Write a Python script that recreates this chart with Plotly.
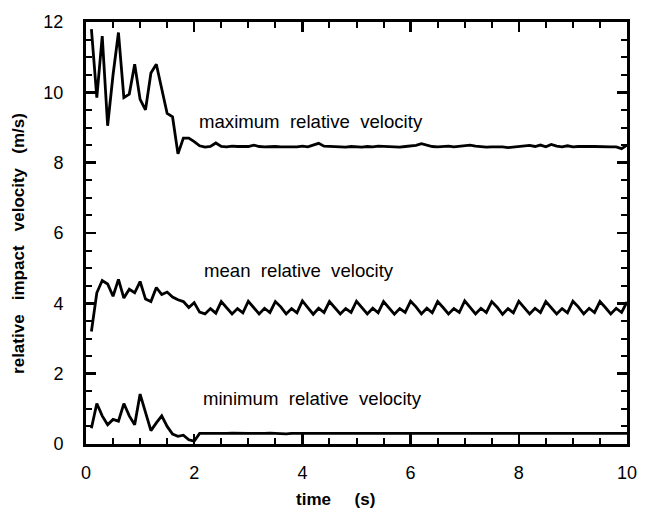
import plotly.graph_objects as go

time_s = [0.1, 0.2, 0.3, 0.4, 0.5, 0.6, 0.7, 0.8, 0.9, 1.0,
          1.1, 1.2, 1.3, 1.4, 1.5, 1.6, 1.7, 1.8, 1.9, 2.0,
          2.1, 2.2, 2.3, 2.4, 2.5, 2.6, 2.7, 2.8, 2.9, 3.0,
          3.1, 3.2, 3.3, 3.4, 3.5, 3.6, 3.7, 3.8, 3.9, 4.0,
          4.1, 4.2, 4.3, 4.4, 4.5, 4.6, 4.7, 4.8, 4.9, 5.0,
          5.1, 5.2, 5.3, 5.4, 5.5, 5.6, 5.7, 5.8, 5.9, 6.0,
          6.1, 6.2, 6.3, 6.4, 6.5, 6.6, 6.7, 6.8, 6.9, 7.0,
          7.1, 7.2, 7.3, 7.4, 7.5, 7.6, 7.7, 7.8, 7.9, 8.0,
          8.1, 8.2, 8.3, 8.4, 8.5, 8.6, 8.7, 8.8, 8.9, 9.0,
          9.1, 9.2, 9.3, 9.4, 9.5, 9.6, 9.7, 9.8, 9.9, 10.0]

max_vel = [11.8, 9.85, 11.6, 9.05, 10.5, 11.7, 9.85, 9.95, 10.8, 9.8,
           9.5, 10.55, 10.8, 10.1, 9.4, 9.3, 8.25, 8.7, 8.7, 8.6,
           8.48, 8.44, 8.46, 8.56, 8.46, 8.45, 8.47, 8.46, 8.47, 8.46,
           8.5, 8.46, 8.45, 8.46, 8.46, 8.45, 8.44, 8.45, 8.45, 8.47,
           8.45, 8.5, 8.55, 8.47, 8.46, 8.45, 8.45, 8.44, 8.46, 8.45,
           8.44, 8.46, 8.45, 8.47, 8.46, 8.45, 8.45, 8.44, 8.46, 8.48,
           8.49, 8.54, 8.5, 8.46, 8.45, 8.46, 8.47, 8.45, 8.46, 8.47,
           8.5, 8.47, 8.45, 8.44, 8.45, 8.46, 8.45, 8.43, 8.45, 8.46,
           8.47, 8.49, 8.46, 8.5, 8.45, 8.52, 8.47, 8.45, 8.48, 8.45,
           8.46, 8.45, 8.46, 8.46, 8.45, 8.46, 8.45, 8.45, 8.4, 8.5]

mean_vel = [3.2, 4.3, 4.65, 4.55, 4.2, 4.68, 4.15, 4.4, 4.3, 4.62,
            4.12, 4.05, 4.45, 4.25, 4.32, 4.18, 4.1, 4.05, 3.88, 4.02,
            3.75, 3.7, 3.85, 3.72, 4.05, 3.88, 3.7, 3.85, 3.73, 4.06,
            3.88, 3.7, 3.86, 3.74, 4.05, 3.9, 3.7, 3.85, 3.73, 4.07,
            3.88, 3.69, 3.86, 3.74, 4.05, 3.89, 3.7, 3.85, 3.74, 4.06,
            3.88, 3.7, 3.86, 3.73, 4.05, 3.88, 3.69, 3.85, 3.74, 4.06,
            3.9, 3.7, 3.86, 3.73, 4.05, 3.88, 3.7, 3.85, 3.74, 4.07,
            3.88, 3.7, 3.86, 3.74, 4.05, 3.89, 3.69, 3.85, 3.73, 4.06,
            3.88, 3.7, 3.86, 3.74, 4.05, 3.88, 3.7, 3.85, 3.73, 4.06,
            3.9, 3.7, 3.86, 3.74, 4.05, 3.88, 3.7, 3.86, 3.74, 4.04]

min_vel = [0.45, 1.15, 0.8, 0.55, 0.7, 0.65, 1.15, 0.8, 0.55, 1.42,
           0.9, 0.38, 0.6, 0.8, 0.5, 0.28, 0.22, 0.25, 0.12, 0.08,
           0.3, 0.3, 0.28, 0.3, 0.29, 0.3, 0.31, 0.3, 0.29, 0.3,
           0.3, 0.29, 0.3, 0.31, 0.3, 0.3, 0.29, 0.3, 0.3, 0.31,
           0.3, 0.29, 0.3, 0.3, 0.31, 0.3, 0.29, 0.3, 0.3, 0.3,
           0.31, 0.3, 0.29, 0.3, 0.3, 0.31, 0.3, 0.3, 0.29, 0.3,
           0.3, 0.31, 0.3, 0.29, 0.3, 0.3, 0.3, 0.31, 0.3, 0.29,
           0.3, 0.3, 0.31, 0.3, 0.29, 0.3, 0.3, 0.3, 0.31, 0.3,
           0.29, 0.3, 0.3, 0.31, 0.3, 0.3, 0.29, 0.3, 0.3, 0.31,
           0.3, 0.29, 0.3, 0.3, 0.3, 0.31, 0.3, 0.29, 0.3, 0.3]

labels = ["maximum\u00a0 relative\u00a0 velocity",
          "mean\u00a0 relative\u00a0 velocity",
          "minimum\u00a0 relative\u00a0 velocity"]
label_x = [4.15, 3.94, 4.19]
label_y = [9.18, 4.92, 1.28]

x_title = "<b>time\u00a0\u00a0\u00a0\u00a0\u00a0(s)</b>"
y_title = "<b>relative\u00a0\u00a0\u00a0impact\u00a0\u00a0\u00a0velocity\u00a0\u00a0\u00a0(m/s)</b>"

FONT = "Liberation Sans, Arial, Helvetica, sans-serif"

fig = go.Figure()
for series in (max_vel, mean_vel, min_vel):
    fig.add_trace(go.Scatter(x=time_s, y=series, mode="lines",
                             line=dict(color="black", width=2.8),
                             showlegend=False, hoverinfo="skip"))

for txt, lx, ly in zip(labels, label_x, label_y):
    fig.add_annotation(x=lx, y=ly, text=txt, showarrow=False,
                       font=dict(family=FONT, size=18.6, color="black"))

fig.add_annotation(x=4.62, xref="x", y=-0.132, yref="paper", text=x_title,
                   showarrow=False, yanchor="middle",
                   font=dict(family=FONT, size=17, color="black"))
fig.add_annotation(x=-0.125, xref="paper", y=5.7, yref="y", text=y_title,
                   showarrow=False, textangle=-90, xanchor="center", yanchor="middle",
                   font=dict(family=FONT, size=17, color="black"))

axis_common = dict(
    showline=True, linecolor="black", linewidth=3, mirror="allticks",
    ticks="inside", ticklen=10, tickwidth=2.5, tickcolor="black",
    showgrid=False, zeroline=False,
    tickfont=dict(family=FONT, size=18, color="black"),
    minor=dict(dtick=0.5, ticks="inside", ticklen=6, tickwidth=2, tickcolor="black"),
)

fig.update_xaxes(range=[0, 10], dtick=2, tick0=0, ticklabelstandoff=10, **axis_common)
fig.update_yaxes(range=[0, 12], dtick=2, tick0=0, ticklabelstandoff=16, **axis_common)

fig.update_layout(width=649, height=514,
                  margin=dict(l=86, r=19, t=19, b=70),
                  paper_bgcolor="white", plot_bgcolor="white")

fig.write_html("out.html",
               config={"displayModeBar": False, "staticPlot": True},
               post_script="document.body.style.margin='0px';document.body.style.overflow='hidden';")
